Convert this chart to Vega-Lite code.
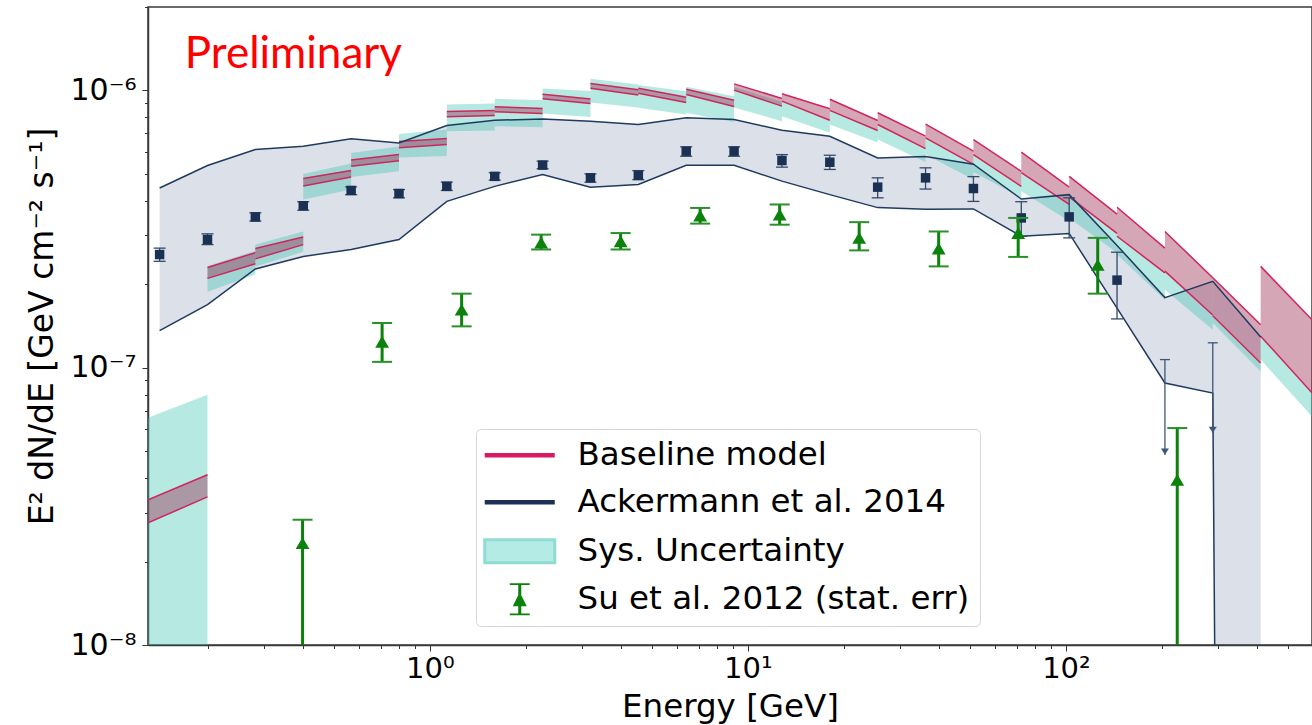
{
  "$schema": "https://vega.github.io/schema/vega-lite/v6.json",
  "width": 1164,
  "height": 638,
  "autosize": {"type": "none"},
  "padding": {"left": 148, "top": 7, "right": 0, "bottom": 80},
  "background": "white",
  "config": {
    "view": {"stroke": "#3a3a3a", "strokeWidth": 1.5},
    "font": "DejaVu Sans"
  },
  "datasets": {
    "base": [
      {"bin": "A", "E": 0.13, "ru": 3.34e-8, "rl": 2.76e-8, "cu": 6.60e-8, "cl": 1e-9},
      {"bin": "A", "E": 0.2, "ru": 4.11e-8, "rl": 3.42e-8, "cu": 7.99e-8, "cl": 1e-9},
      {"bin": "k0", "E": 0.2, "ru": 2.30e-7, "rl": 2.10e-7, "cu": 2.33e-7, "cl": 1.88e-7},
      {"bin": "k0", "E": 0.2828, "ru": 2.60e-7, "rl": 2.37e-7, "cu": 2.64e-7, "cl": 2.17e-7},
      {"bin": "k1", "E": 0.2828, "ru": 2.69e-7, "rl": 2.47e-7, "cu": 2.78e-7, "cl": 2.32e-7},
      {"bin": "k1", "E": 0.4, "ru": 2.96e-7, "rl": 2.78e-7, "cu": 3.10e-7, "cl": 2.62e-7},
      {"bin": "k2", "E": 0.4, "ru": 4.81e-7, "rl": 4.52e-7, "cu": 5.00e-7, "cl": 4.04e-7},
      {"bin": "k2", "E": 0.5657, "ru": 5.14e-7, "rl": 4.87e-7, "cu": 5.45e-7, "cl": 4.39e-7},
      {"bin": "k3", "E": 0.5657, "ru": 5.61e-7, "rl": 5.33e-7, "cu": 5.95e-7, "cl": 4.87e-7},
      {"bin": "k3", "E": 0.8, "ru": 5.87e-7, "rl": 5.58e-7, "cu": 6.28e-7, "cl": 5.11e-7},
      {"bin": "k4", "E": 0.8, "ru": 6.55e-7, "rl": 6.21e-7, "cu": 6.97e-7, "cl": 5.73e-7},
      {"bin": "k4", "E": 1.131, "ru": 6.71e-7, "rl": 6.38e-7, "cu": 7.23e-7, "cl": 5.80e-7},
      {"bin": "k5", "E": 1.131, "ru": 8.40e-7, "rl": 8.04e-7, "cu": 8.90e-7, "cl": 7.13e-7},
      {"bin": "k5", "E": 1.6, "ru": 8.47e-7, "rl": 8.12e-7, "cu": 8.97e-7, "cl": 7.17e-7},
      {"bin": "k6", "E": 1.6, "ru": 8.73e-7, "rl": 8.38e-7, "cu": 9.33e-7, "cl": 7.43e-7},
      {"bin": "k6", "E": 2.263, "ru": 8.61e-7, "rl": 8.26e-7, "cu": 9.23e-7, "cl": 7.37e-7},
      {"bin": "k7", "E": 2.263, "ru": 9.70e-7, "rl": 9.33e-7, "cu": 1.017e-6, "cl": 8.26e-7},
      {"bin": "k7", "E": 3.2, "ru": 9.32e-7, "rl": 8.97e-7, "cu": 9.96e-7, "cl": 8.02e-7},
      {"bin": "k8", "E": 3.2, "ru": 1.060e-6, "rl": 1.018e-6, "cu": 1.102e-6, "cl": 9.05e-7},
      {"bin": "k8", "E": 4.525, "ru": 1.006e-6, "rl": 9.63e-7, "cu": 1.051e-6, "cl": 8.68e-7},
      {"bin": "k9", "E": 4.525, "ru": 1.019e-6, "rl": 9.78e-7, "cu": 1.047e-6, "cl": 8.66e-7},
      {"bin": "k9", "E": 6.4, "ru": 9.45e-7, "rl": 9.05e-7, "cu": 9.94e-7, "cl": 8.19e-7},
      {"bin": "k10", "E": 6.4, "ru": 1.011e-6, "rl": 9.67e-7, "cu": 1.031e-6, "cl": 8.31e-7},
      {"bin": "k10", "E": 9.051, "ru": 9.22e-7, "rl": 8.75e-7, "cu": 9.54e-7, "cl": 7.70e-7},
      {"bin": "k11", "E": 9.051, "ru": 1.056e-6, "rl": 1.003e-6, "cu": 1.03e-6, "cl": 8.68e-7},
      {"bin": "k11", "E": 12.8, "ru": 9.36e-7, "rl": 8.78e-7, "cu": 9.1e-7, "cl": 7.75e-7},
      {"bin": "k12", "E": 12.8, "ru": 9.73e-7, "rl": 9.15e-7, "cu": 9.15e-7, "cl": 8.08e-7},
      {"bin": "k12", "E": 18.1, "ru": 8.59e-7, "rl": 7.81e-7, "cu": 7.81e-7, "cl": 7.04e-7},
      {"bin": "k13", "E": 18.1, "ru": 9.30e-7, "rl": 8.48e-7, "cu": 8.48e-7, "cl": 7.54e-7},
      {"bin": "k13", "E": 25.6, "ru": 7.79e-7, "rl": 7.17e-7, "cu": 7.17e-7, "cl": 6.49e-7},
      {"bin": "k14", "E": 25.6, "ru": 8.31e-7, "rl": 7.54e-7, "cu": 7.54e-7, "cl": 6.65e-7},
      {"bin": "k14", "E": 36.2, "ru": 6.84e-7, "rl": 6.17e-7, "cu": 6.17e-7, "cl": 5.52e-7},
      {"bin": "k15", "E": 36.2, "ru": 7.56e-7, "rl": 6.75e-7, "cu": 6.75e-7, "cl": 5.87e-7},
      {"bin": "k15", "E": 51.2, "ru": 6.04e-7, "rl": 5.41e-7, "cu": 5.41e-7, "cl": 4.77e-7},
      {"bin": "k16", "E": 51.2, "ru": 6.65e-7, "rl": 5.87e-7, "cu": 5.87e-7, "cl": 5.08e-7},
      {"bin": "k16", "E": 72.4, "ru": 5.11e-7, "rl": 4.51e-7, "cu": 4.51e-7, "cl": 4.10e-7},
      {"bin": "k17", "E": 72.4, "ru": 5.99e-7, "rl": 5.05e-7, "cu": 5.05e-7, "cl": 4.33e-7},
      {"bin": "k17", "E": 102.4, "ru": 4.48e-7, "rl": 3.88e-7, "cu": 3.88e-7, "cl": 3.38e-7},
      {"bin": "k18", "E": 102.4, "ru": 4.90e-7, "rl": 4.13e-7, "cu": 4.13e-7, "cl": 3.47e-7},
      {"bin": "k18", "E": 144.8, "ru": 3.58e-7, "rl": 3.05e-7, "cu": 3.05e-7, "cl": 2.60e-7},
      {"bin": "k19", "E": 144.8, "ru": 3.79e-7, "rl": 2.98e-7, "cu": 2.98e-7, "cl": 2.56e-7},
      {"bin": "k19", "E": 204.8, "ru": 2.70e-7, "rl": 2.20e-7, "cu": 2.20e-7, "cl": 1.76e-7},
      {"bin": "k20", "E": 204.8, "ru": 3.10e-7, "rl": 2.23e-7, "cu": 2.23e-7, "cl": 1.91e-7},
      {"bin": "k20", "E": 289.6, "ru": 2.11e-7, "rl": 1.55e-7, "cu": 1.55e-7, "cl": 1.37e-7},
      {"bin": "k21", "E": 289.6, "ru": 2.11e-7, "rl": 1.54e-7, "cu": 1.54e-7, "cl": 1.45e-7},
      {"bin": "k21", "E": 409.6, "ru": 1.43e-7, "rl": 1.04e-7, "cu": 1.04e-7, "cl": 9.70e-8},
      {"bin": "k22", "E": 409.6, "ru": 2.32e-7, "rl": 1.30e-7, "cu": 1.30e-7, "cl": 1.07e-7},
      {"bin": "k22", "E": 594, "ru": 1.49e-7, "rl": 8.12e-8, "cu": 8.12e-8, "cl": 6.67e-8}
    ],
    "ack": [
      {"E": 0.1414, "up": 4.45e-7, "lo": 1.36e-7},
      {"E": 0.2, "up": 5.36e-7, "lo": 1.69e-7},
      {"E": 0.2828, "up": 6.12e-7, "lo": 2.27e-7},
      {"E": 0.4, "up": 6.29e-7, "lo": 2.52e-7},
      {"E": 0.5657, "up": 6.69e-7, "lo": 2.67e-7},
      {"E": 0.8, "up": 6.47e-7, "lo": 2.90e-7},
      {"E": 1.131, "up": 7.47e-7, "lo": 3.98e-7},
      {"E": 1.6, "up": 7.81e-7, "lo": 4.51e-7},
      {"E": 2.263, "up": 7.89e-7, "lo": 4.98e-7},
      {"E": 3.2, "up": 7.75e-7, "lo": 4.48e-7},
      {"E": 4.525, "up": 7.54e-7, "lo": 4.58e-7},
      {"E": 6.4, "up": 7.97e-7, "lo": 5.37e-7},
      {"E": 9.051, "up": 7.86e-7, "lo": 5.37e-7},
      {"E": 12.8, "up": 7.19e-7, "lo": 4.71e-7},
      {"E": 18.1, "up": 6.84e-7, "lo": 4.21e-7},
      {"E": 25.6, "up": 5.71e-7, "lo": 3.78e-7},
      {"E": 36.2, "up": 5.78e-7, "lo": 3.73e-7},
      {"E": 51.2, "up": 5.42e-7, "lo": 3.74e-7},
      {"E": 72.4, "up": 4.06e-7, "lo": 2.98e-7},
      {"E": 102.4, "up": 4.21e-7, "lo": 3.05e-7},
      {"E": 144.8, "up": 2.76e-7, "lo": 1.64e-7},
      {"E": 204.8, "up": 1.79e-7, "lo": 8.81e-8},
      {"E": 289.6, "up": 2.05e-7, "lo": 8.10e-8},
      {"E": 409.6, "up": 1.29e-7, "lo": 1e-30}
    ],
    "ackpts": [
      {"E": 0.1414, "F": 2.56e-7, "hi": 2.70e-7, "lo": 2.42e-7},
      {"E": 0.2, "F": 2.90e-7, "hi": 3.04e-7, "lo": 2.78e-7},
      {"E": 0.2828, "F": 3.50e-7, "hi": 3.62e-7, "lo": 3.38e-7},
      {"E": 0.4, "F": 3.84e-7, "hi": 3.97e-7, "lo": 3.70e-7},
      {"E": 0.5657, "F": 4.36e-7, "hi": 4.49e-7, "lo": 4.21e-7},
      {"E": 0.8, "F": 4.25e-7, "hi": 4.39e-7, "lo": 4.10e-7},
      {"E": 1.131, "F": 4.51e-7, "hi": 4.67e-7, "lo": 4.36e-7},
      {"E": 1.6, "F": 4.90e-7, "hi": 5.05e-7, "lo": 4.75e-7},
      {"E": 2.263, "F": 5.38e-7, "hi": 5.56e-7, "lo": 5.22e-7},
      {"E": 3.2, "F": 4.84e-7, "hi": 5.00e-7, "lo": 4.67e-7},
      {"E": 4.525, "F": 4.94e-7, "hi": 5.14e-7, "lo": 4.77e-7},
      {"E": 6.4, "F": 6.04e-7, "hi": 6.26e-7, "lo": 5.79e-7},
      {"E": 9.051, "F": 6.04e-7, "hi": 6.26e-7, "lo": 5.79e-7},
      {"E": 12.8, "F": 5.59e-7, "hi": 5.87e-7, "lo": 5.29e-7},
      {"E": 18.1, "F": 5.51e-7, "hi": 5.84e-7, "lo": 5.19e-7},
      {"E": 25.6, "F": 4.48e-7, "hi": 4.84e-7, "lo": 4.10e-7},
      {"E": 36.2, "F": 4.84e-7, "hi": 5.26e-7, "lo": 4.41e-7},
      {"E": 51.2, "F": 4.43e-7, "hi": 4.89e-7, "lo": 3.98e-7},
      {"E": 72.4, "F": 3.47e-7, "hi": 3.97e-7, "lo": 2.98e-7},
      {"E": 102.4, "F": 3.50e-7, "hi": 4.10e-7, "lo": 2.94e-7},
      {"E": 144.8, "F": 2.07e-7, "hi": 2.61e-7, "lo": 1.50e-7}
    ],
    "ul": [
      {"E": 204.8, "top": 1.07e-7, "tip": 4.85e-8},
      {"E": 289.6, "top": 1.23e-7, "tip": 5.81e-8}
    ],
    "su": [
      {"E": 0.398, "F": 2.33e-8, "hi": 2.83e-8, "lo": 1e-30},
      {"E": 0.708, "F": 1.24e-7, "hi": 1.45e-7, "lo": 1.05e-7},
      {"E": 1.259, "F": 1.62e-7, "hi": 1.85e-7, "lo": 1.41e-7},
      {"E": 2.239, "F": 2.83e-7, "hi": 3.02e-7, "lo": 2.67e-7},
      {"E": 3.981, "F": 2.86e-7, "hi": 3.06e-7, "lo": 2.67e-7},
      {"E": 7.079, "F": 3.54e-7, "hi": 3.77e-7, "lo": 3.31e-7},
      {"E": 12.59, "F": 3.57e-7, "hi": 3.88e-7, "lo": 3.28e-7},
      {"E": 22.39, "F": 2.94e-7, "hi": 3.35e-7, "lo": 2.65e-7},
      {"E": 39.81, "F": 2.69e-7, "hi": 3.10e-7, "lo": 2.32e-7},
      {"E": 70.79, "F": 3.06e-7, "hi": 3.47e-7, "lo": 2.51e-7},
      {"E": 125.9, "F": 2.35e-7, "hi": 2.94e-7, "lo": 1.85e-7},
      {"E": 223.9, "F": 3.94e-8, "hi": 6.06e-8, "lo": 1e-30}
    ],
    "legend": [
      {"series": "Baseline model"},
      {"series": "Ackermann et al. 2014"},
      {"series": "Sys. Uncertainty"},
      {"series": "Su et al. 2012 (stat. err)"}
    ],
    "note": [
      {"E": 0.1697, "F": 1.21e-6, "label": "Preliminary"}
    ]
  },
  "encoding": {
    "x": {
      "field": "E",
      "type": "quantitative",
      "scale": {"type": "log", "domain": [0.13, 594], "nice": false},
      "axis": {
        "values": [0.2, 0.3, 0.4, 0.5, 0.6, 0.7, 0.8, 0.9, 1, 2, 3, 4, 5, 6, 7, 8, 9, 10, 20, 30, 40, 50, 60, 70, 80, 90, 100, 200, 300, 400, 500],
        "labelExpr": "datum.value === 1 ? '10⁰' : datum.value === 10 ? '10¹' : datum.value === 100 ? '10²' : ''",
        "labelFont": "DejaVu Sans",
        "labelFontSize": 29,
        "labelColor": "#000000",
        "labelPadding": 3,
        "labelOverlap": false,
        "labelFlush": false,
        "tickSize": {"condition": {"test": "datum.value === 1 || datum.value === 10 || datum.value === 100", "value": 6}, "value": 3.5},
        "tickColor": "#333333",
        "tickWidth": 1,
        "domainColor": "#3a3a3a",
        "domainWidth": 1.5,
        "grid": false,
        "title": "Energy [GeV]",
        "titleFont": "DejaVu Sans",
        "titleFontSize": 32.5,
        "titleFontWeight": "normal",
        "titleColor": "#000000",
        "titleX": 582,
        "titleY": 71,
        "titleAlign": "center",
        "titleBaseline": "alphabetic"
      }
    },
    "y": {
      "field": "up",
      "type": "quantitative",
      "scale": {"type": "log", "domain": [1e-8, 2e-6], "nice": false},
      "axis": {
        "orient": "left",
        "values": [1e-8, 2e-8, 3e-8, 4e-8, 5e-8, 6e-8, 7e-8, 8e-8, 9e-8, 1e-7, 2e-7, 3e-7, 4e-7, 5e-7, 6e-7, 7e-7, 8e-7, 9e-7, 1e-6, 2e-6],
        "labelExpr": "datum.value === 1e-8 ? '10⁻⁸' : datum.value === 1e-7 ? '10⁻⁷' : datum.value === 1e-6 ? '10⁻⁶' : ''",
        "labelFont": "DejaVu Sans",
        "labelFontSize": 30,
        "labelColor": "#000000",
        "labelPadding": 6,
        "labelOverlap": false,
        "labelFlush": false,
        "tickSize": {"condition": {"test": "datum.value === 1e-8 || datum.value === 1e-7 || datum.value === 1e-6", "value": 6}, "value": 3.5},
        "tickColor": "#333333",
        "tickWidth": 1,
        "domainColor": "#3a3a3a",
        "domainWidth": 1.5,
        "grid": false,
        "title": "E² dN/dE [GeV cm⁻² s⁻¹]",
        "titleFont": "DejaVu Sans",
        "titleFontSize": 33,
        "titleFontWeight": "normal",
        "titleColor": "#000000",
        "titleX": -96,
        "titleY": 319,
        "titleAngle": -90,
        "titleAlign": "center",
        "titleBaseline": "alphabetic"
      }
    }
  },
  "layer": [
    {
      "data": {"name": "ack"},
      "mark": {"type": "area", "color": "#2b4a7a", "opacity": 0.17, "clip": true},
      "encoding": {
        "y2": {"field": "lo"}
      }
    },
    {
      "data": {"name": "base"},
      "mark": {"type": "area", "color": "#3cc6b4", "opacity": 0.38, "clip": true},
      "encoding": {
        "y": {"field": "cu", "type": "quantitative"},
        "y2": {"field": "cl"},
        "detail": {"field": "bin", "type": "nominal"}
      }
    },
    {
      "data": {"name": "base"},
      "mark": {"type": "area", "color": "#9c2c52", "opacity": 0.42, "clip": true},
      "encoding": {
        "y": {"field": "ru", "type": "quantitative"},
        "y2": {"field": "rl"},
        "detail": {"field": "bin", "type": "nominal"}
      }
    },
    {
      "data": {"name": "base"},
      "mark": {"type": "line", "color": "#d0245c", "strokeWidth": 1.5, "clip": true},
      "encoding": {
        "y": {"field": "ru", "type": "quantitative"},
        "detail": {"field": "bin", "type": "nominal"}
      }
    },
    {
      "data": {"name": "base"},
      "mark": {"type": "line", "color": "#d0245c", "strokeWidth": 1.5, "clip": true},
      "encoding": {
        "y": {"field": "rl", "type": "quantitative"},
        "detail": {"field": "bin", "type": "nominal"}
      }
    },
    {
      "data": {"name": "ack"},
      "mark": {"type": "line", "color": "#1f3a5f", "strokeWidth": 1.5, "clip": true},
      "encoding": {}
    },
    {
      "data": {"name": "ack"},
      "mark": {"type": "line", "color": "#1f3a5f", "strokeWidth": 1.5, "clip": true},
      "encoding": {
        "y": {"field": "lo", "type": "quantitative"}
      }
    },
    {
      "data": {"name": "ackpts"},
      "mark": {"type": "rule", "color": "#34496b", "strokeWidth": 1.3, "clip": true},
      "encoding": {
        "y": {"field": "hi", "type": "quantitative"},
        "y2": {"field": "lo"}
      }
    },
    {
      "data": {"name": "ackpts"},
      "mark": {"type": "point", "shape": "M-1,0H1", "filled": false, "size": 144, "strokeWidth": 1.3, "color": "#34496b", "opacity": 1, "clip": true},
      "encoding": {
        "y": {"field": "hi", "type": "quantitative"}
      }
    },
    {
      "data": {"name": "ackpts"},
      "mark": {"type": "point", "shape": "M-1,0H1", "filled": false, "size": 144, "strokeWidth": 1.3, "color": "#34496b", "opacity": 1, "clip": true},
      "encoding": {
        "y": {"field": "lo", "type": "quantitative"}
      }
    },
    {
      "data": {"name": "ackpts"},
      "mark": {"type": "point", "shape": "square", "filled": true, "size": 90, "color": "#1a3154", "opacity": 1, "clip": true},
      "encoding": {
        "y": {"field": "F", "type": "quantitative"}
      }
    },
    {
      "data": {"name": "ul"},
      "mark": {"type": "rule", "color": "#3f5677", "strokeWidth": 1.3, "clip": true},
      "encoding": {
        "y": {"field": "top", "type": "quantitative"},
        "y2": {"field": "tip"}
      }
    },
    {
      "data": {"name": "ul"},
      "mark": {"type": "point", "shape": "M-1,0H1", "filled": false, "size": 100, "strokeWidth": 1.3, "color": "#3f5677", "opacity": 1, "clip": true},
      "encoding": {
        "y": {"field": "top", "type": "quantitative"}
      }
    },
    {
      "data": {"name": "ul"},
      "mark": {"type": "point", "shape": "M-1,-1.6L1,-1.6L0,0Z", "filled": true, "size": 64, "color": "#3f5677", "opacity": 1, "clip": true},
      "encoding": {
        "y": {"field": "tip", "type": "quantitative"}
      }
    },
    {
      "data": {"name": "su"},
      "mark": {"type": "rule", "color": "#0b820b", "strokeWidth": 3, "clip": true},
      "encoding": {
        "y": {"field": "hi", "type": "quantitative"},
        "y2": {"field": "lo"}
      }
    },
    {
      "data": {"name": "su"},
      "mark": {"type": "point", "shape": "M-1,0H1", "filled": false, "size": 400, "strokeWidth": 2, "color": "#2a902a", "opacity": 1, "clip": true},
      "encoding": {
        "y": {"field": "hi", "type": "quantitative"}
      }
    },
    {
      "data": {"name": "su"},
      "mark": {"type": "point", "shape": "M-1,0H1", "filled": false, "size": 400, "strokeWidth": 2, "color": "#2a902a", "opacity": 1, "clip": true},
      "encoding": {
        "y": {"field": "lo", "type": "quantitative"}
      }
    },
    {
      "data": {"name": "su"},
      "mark": {"type": "point", "shape": "triangle-up", "filled": true, "size": 190, "color": "#0b820b", "opacity": 1, "clip": true},
      "encoding": {
        "y": {"field": "F", "type": "quantitative"}
      }
    },
    {
      "data": {"name": "note"},
      "mark": {"type": "text", "align": "left", "baseline": "alphabetic", "font": "Lato", "fontSize": 44, "color": "#ff0000"},
      "encoding": {
        "y": {"field": "F", "type": "quantitative"},
        "text": {"field": "label", "type": "nominal"}
      }
    },
    {
      "data": {"name": "legend"},
      "mark": {"type": "point", "filled": true, "opacity": 0},
      "encoding": {
        "x": {"value": 0},
        "y": {"value": 0},
        "color": {
          "field": "series",
          "type": "nominal",
          "scale": {
            "domain": ["Baseline model", "Ackermann et al. 2014", "Sys. Uncertainty", "Su et al. 2012 (stat. err)"],
            "range": ["#d81b60", "#1c2f54", "#b5ebe5", "#0b820b"]
          },
          "legend": {
            "title": null,
            "orient": "none",
            "legendX": 328,
            "legendY": 422,
            "direction": "vertical",
            "padding": 10,
            "rowPadding": 14,
            "symbolSize": 1225,
            "symbolOpacity": 1,
            "labelFont": "DejaVu Sans",
            "labelFontSize": 32.5,
            "labelColor": "#000000",
            "labelOffset": 59,
            "labelLimit": 0,
            "fillColor": "rgba(255,255,255,0.85)",
            "strokeColor": "#d6d6d6",
            "cornerRadius": 5,
            "encode": {
              "symbols": {
                "update": {
                  "stroke": {"signal": "datum.value === 'Sys. Uncertainty' ? '#8fdcd2' : 'transparent'"},
                  "strokeWidth": {"signal": "datum.value === 'Sys. Uncertainty' ? 3 : 0"}
                }
              }
            }
          }
        },
        "shape": {
          "field": "series",
          "type": "nominal",
          "scale": {
            "domain": ["Baseline model", "Ackermann et al. 2014", "Sys. Uncertainty", "Su et al. 2012 (stat. err)"],
            "range": [
              "M-1,-0.13H3V0.13H-1Z",
              "M-1,-0.13H3V0.13H-1Z",
              "M-1,-0.66H3V0.66H-1Z",
              "M0.43,-0.92H1.57V-0.81H0.43Z M0.43,0.81H1.57V0.92H0.43Z M0.914,-0.88H1.086V0.88H0.914Z M1,-0.4L1.4,0.4H0.6Z"
            ]
          },
          "legend": {
            "title": null,
            "orient": "none",
            "legendX": 328,
            "legendY": 422,
            "direction": "vertical",
            "padding": 10,
            "rowPadding": 14,
            "symbolSize": 1225,
            "symbolOpacity": 1,
            "labelFont": "DejaVu Sans",
            "labelFontSize": 32.5,
            "labelColor": "#000000",
            "labelOffset": 59,
            "labelLimit": 0,
            "fillColor": "rgba(255,255,255,0.85)",
            "strokeColor": "#d6d6d6",
            "cornerRadius": 5,
            "encode": {
              "symbols": {
                "update": {
                  "stroke": {"signal": "datum.value === 'Sys. Uncertainty' ? '#8fdcd2' : 'transparent'"},
                  "strokeWidth": {"signal": "datum.value === 'Sys. Uncertainty' ? 3 : 0"}
                }
              }
            }
          }
        }
      }
    }
  ]
}
